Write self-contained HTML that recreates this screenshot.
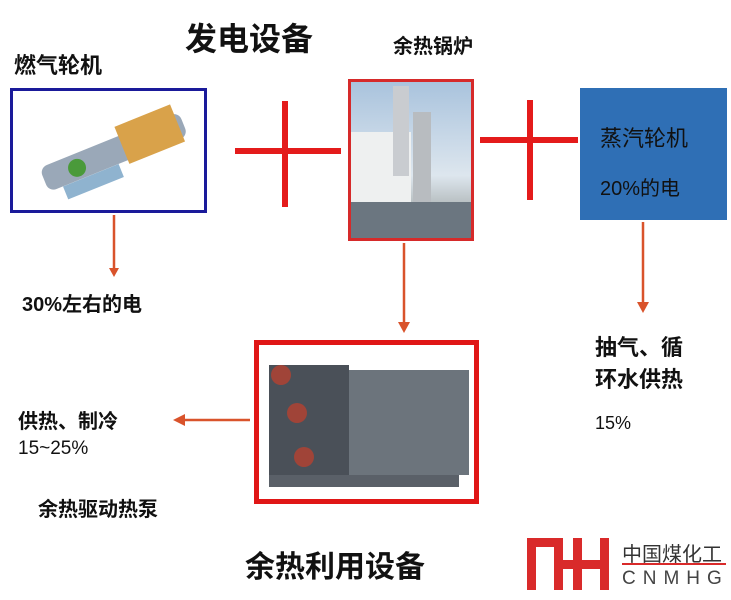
<!DOCTYPE html>
<html><head><meta charset="utf-8"><style>
body{margin:0;width:731px;height:600px;background:#fff;position:relative;overflow:hidden;font-family:"Liberation Sans","Noto Sans CJK SC",sans-serif;color:#111}
.a{position:absolute;white-space:nowrap}
.b{font-weight:bold}
</style></head><body>
<div class="a b" style="left:185px;top:14px;font-size:32px">发电设备</div>
<div class="a b" style="left:14px;top:48px;font-size:22px">燃气轮机</div>
<div class="a b" style="left:393px;top:30px;font-size:20px">余热锅炉</div>

<div class="a" style="left:10px;top:88px;width:191px;height:119px;border:3px solid #1a1a9a;background:#fff">
<svg width="191" height="119"><g transform="rotate(-22 95 60)"><rect x="25" y="50" width="150" height="26" rx="8" fill="#9aa8b8"/><rect x="110" y="40" width="60" height="40" fill="#d9a24a"/><circle cx="60" cy="64" r="9" fill="#4a9a3a"/><rect x="40" y="76" width="60" height="14" fill="#8fb3cf"/></g></svg></div>

<div class="a" style="left:235px;top:148px;width:106px;height:6px;background:#e41b1b"></div>
<div class="a" style="left:282px;top:101px;width:6px;height:106px;background:#e41b1b"></div>
<div class="a" style="left:480px;top:137px;width:98px;height:6px;background:#e41b1b"></div>
<div class="a" style="left:527px;top:100px;width:6px;height:100px;background:#e41b1b"></div>

<div class="a" style="left:348px;top:79px;width:120px;height:156px;border:3px solid #d62a2a;background:linear-gradient(#a9c3dd,#dde6ee 60%,#8a8f8a)">
<svg width="120" height="156"><rect x="0" y="50" width="60" height="110" fill="#eef0f0"/><rect x="42" y="4" width="16" height="90" fill="#c9ccd0"/><rect x="62" y="30" width="18" height="110" fill="#b8bcc0"/><rect x="0" y="120" width="120" height="36" fill="#6b7680"/></svg></div>

<div class="a" style="left:580px;top:88px;width:147px;height:132px;background:#2f6fb5"></div>
<div class="a" style="left:600px;top:121px;font-size:22px;color:#111">蒸汽轮机</div>
<div class="a" style="left:600px;top:172px;font-size:20px;color:#111">20%的电</div>

<svg class="a" style="left:0;top:0" width="731" height="600">
<g stroke="#d9532b" stroke-width="2.5" fill="#d9532b">
<line x1="114" y1="215" x2="114" y2="270"/><polygon points="109,268 119,268 114,277" stroke="none"/>
<line x1="404" y1="243" x2="404" y2="325"/><polygon points="398,322 410,322 404,333" stroke="none"/>
<line x1="643" y1="222" x2="643" y2="305"/><polygon points="637,302 649,302 643,313" stroke="none"/>
<line x1="250" y1="420" x2="182" y2="420"/><polygon points="185,414 185,426 173,420" stroke="none"/>
</g></svg>

<div class="a b" style="left:22px;top:288px;font-size:20px">30%左右的电</div>
<div class="a b" style="left:595px;top:330px;font-size:22px">抽气、循</div>
<div class="a b" style="left:595px;top:362px;font-size:22px">环水供热</div>
<div class="a" style="left:595px;top:413px;font-size:18px">15%</div>

<div class="a" style="left:254px;top:340px;width:215px;height:154px;border:5px solid #e01616;background:#fff">
<svg width="215" height="154"><rect x="70" y="25" width="140" height="105" fill="#6c747c"/><rect x="10" y="20" width="80" height="110" fill="#4a5058"/><circle cx="22" cy="30" r="10" fill="#a04438"/><circle cx="38" cy="68" r="10" fill="#a04438"/><circle cx="45" cy="112" r="10" fill="#a04438"/><rect x="10" y="130" width="190" height="12" fill="#5a6068"/></svg></div>

<div class="a b" style="left:18px;top:405px;font-size:20px">供热、制冷</div>
<div class="a" style="left:18px;top:438px;font-size:19px">15~25%</div>
<div class="a b" style="left:38px;top:493px;font-size:20px">余热驱动热泵</div>
<div class="a b" style="left:245px;top:542px;font-size:30px">余热利用设备</div>

<svg class="a" style="left:525px;top:534px" width="90" height="60"><g fill="#d92a2a">
<rect x="2" y="4" width="9" height="52"/><rect x="2" y="4" width="36" height="9"/><rect x="29" y="4" width="9" height="52"/>
<rect x="48" y="4" width="9" height="52"/><rect x="75" y="4" width="9" height="52"/><rect x="48" y="26" width="36" height="9"/><rect x="38" y="26" width="10" height="9"/></g></svg>
<div class="a" style="left:622px;top:538px;font-size:20px;color:#333">中国煤化工</div>
<div class="a" style="left:622px;top:563px;width:104px;height:2px;background:#d92a2a"></div>
<div class="a" style="left:622px;top:568px;font-size:19px;color:#444;letter-spacing:7px">CNMHG</div>
</body></html>
